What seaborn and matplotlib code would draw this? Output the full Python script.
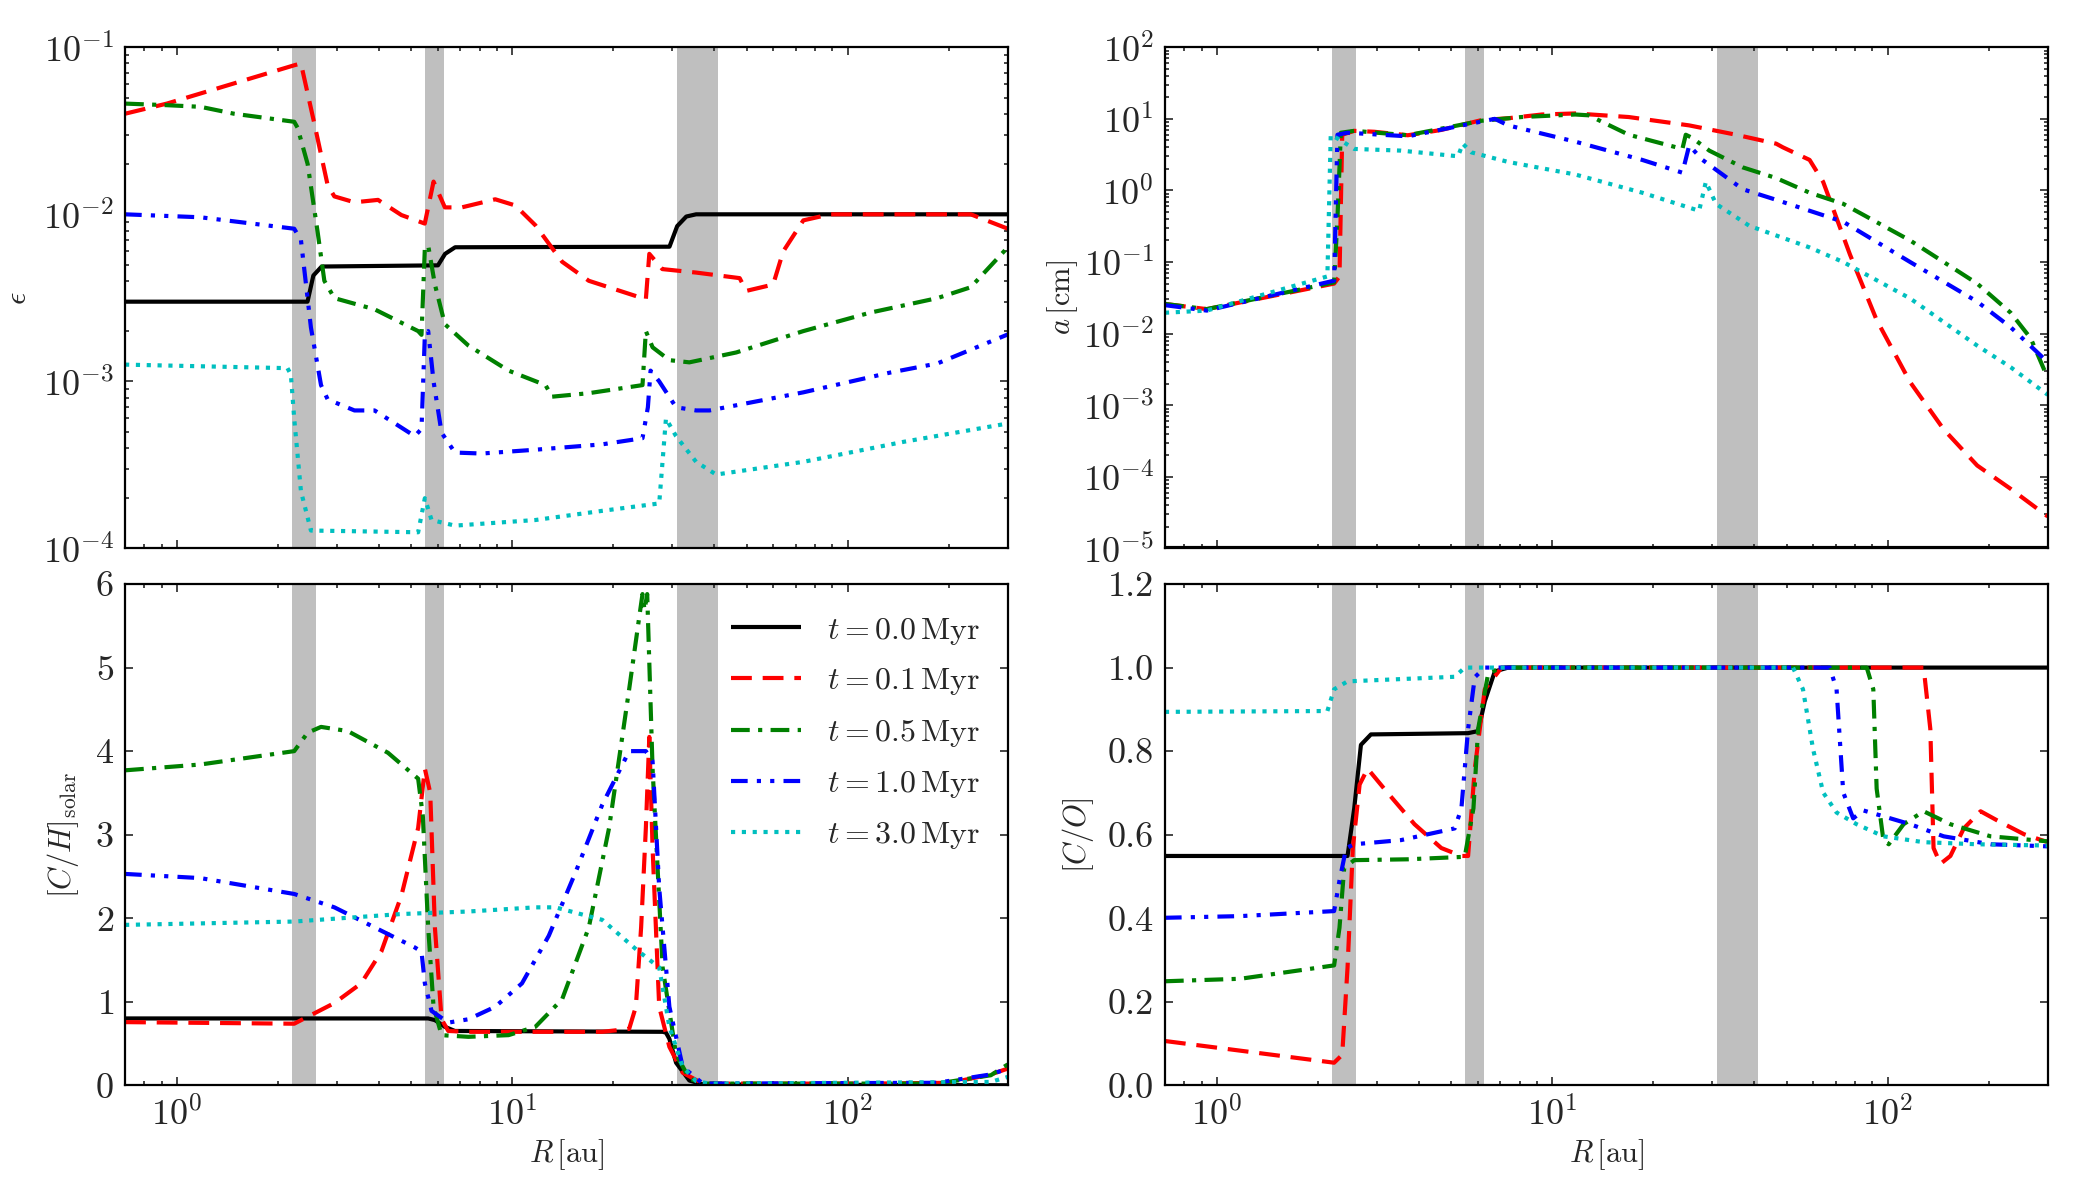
import numpy as np
import pandas as pd
import matplotlib
matplotlib.use("Agg")
import matplotlib.pyplot as plt
import seaborn as sns

# ---- data (R in au) ----
labels = [r"$t=0.0\,\mathrm{Myr}$", r"$t=0.1\,\mathrm{Myr}$", r"$t=0.5\,\mathrm{Myr}$",
          r"$t=1.0\,\mathrm{Myr}$", r"$t=3.0\,\mathrm{Myr}$"]
colors = ["k", "r", "g", "b", "c"]
styles = ["-", (0, (5, 2.6)), (0, (4.5, 2, 1, 2)), (0, (4, 2.2, 1, 2.2, 1, 2.2)), (0, (1, 1.6))]

snowlines = [(2.2, 2.6), (5.5, 6.25), (31.0, 41.0)]

# dust-to-gas ratio
r_eps_0 = [0.7, 2.45, 2.55, 2.7, 6.0, 6.3, 6.75, 29.4, 31, 33, 35.3, 300]
eps_0 = [3.0e-3, 3.0e-3, 4.3e-3, 4.87e-3, 4.95e-3, 5.8e-3, 6.35e-3, 6.4e-3, 8.5e-3, 9.7e-3, 1.0e-2, 1.0e-2]
r_eps_1 = [0.7, 0.933, 2.236, 2.342, 2.567, 2.814, 2.946, 3.382, 3.975, 4.667, 5.48, 5.82, 6.29, 7.06,
           8.89, 10.2, 11.71, 14.07, 16.9, 24.4, 25.0, 25.6, 28.0, 35.3, 47.6, 49.8, 59.9, 64.2, 73.7,
           88.5, 232.6, 300]
eps_1 = [0.040, 0.046, 0.078, 0.080, 0.035, 0.0149, 0.0128, 0.0118, 0.0122, 0.0099, 0.0088, 0.0157,
         0.011, 0.011, 0.0123, 0.0113, 0.0086, 0.0052, 0.0040, 0.00315, 0.0031, 0.0058, 0.0047, 0.00448,
         0.00415, 0.00348, 0.0038, 0.0060, 0.0092, 0.0100, 0.0100, 0.0082]
r_eps_5 = [0.7, 0.933, 1.175, 1.479, 2.236, 2.288, 2.452, 2.627, 2.75, 2.946, 3.883, 5.236, 5.358,
           5.483, 5.61, 5.874, 6.29, 7.39, 9.74, 12.55, 13.14, 16.9, 24.43, 25.0, 26.18, 29.38, 33.7,
           46.5, 73.7, 116.7, 184.9, 232.6, 300]
eps_5 = [0.046, 0.045, 0.044, 0.040, 0.0358, 0.033, 0.020, 0.0078, 0.0040, 0.00315, 0.0027, 0.0020,
         0.0019, 0.0063, 0.0065, 0.0038, 0.0022, 0.00164, 0.00116, 9.5e-4, 8.1e-4, 8.5e-4, 9.5e-4,
         0.0020, 0.0016, 0.00134, 0.0013, 0.00149, 0.0020, 0.00258, 0.00315, 0.00366, 0.00635]
r_eps_10 = [0.7, 1.175, 2.236, 2.342, 2.508, 2.688, 2.814, 3.382, 3.883, 5.117, 5.358, 5.483, 5.61,
            5.82, 6.15, 6.74, 8.1, 11.71, 18.54, 24.43, 25.35, 25.82, 27.4, 30.76, 35.3, 38.7, 73.7,
            134, 184.9, 300]
eps_10 = [0.010, 0.0096, 0.0082, 0.0070, 0.0021, 9.5e-4, 7.8e-4, 6.7e-4, 6.7e-4, 4.7e-4, 5.2e-4,
          1.9e-3, 2.0e-3, 1.0e-3, 4.93e-4, 3.75e-4, 3.7e-4, 3.9e-4, 4.2e-4, 4.57e-4, 7e-4, 1.16e-3,
          1.0e-3, 7.0e-4, 6.7e-4, 6.7e-4, 8.6e-4, 1.13e-3, 1.28e-3, 1.91e-3]
r_eps_30 = [0.7, 2.135, 2.185, 2.236, 2.342, 2.508, 3.23, 5.236, 5.483, 5.741, 6.74, 11.71, 18.54,
            27.4, 28.7, 30.76, 35.3, 40.5, 73.7, 146.9, 300]
eps_30 = [1.26e-3, 1.2e-3, 1.1e-3, 6e-4, 2.2e-4, 1.28e-4, 1.27e-4, 1.25e-4, 2.0e-4, 1.48e-4, 1.37e-4,
          1.48e-4, 1.68e-4, 1.86e-4, 6.0e-4, 4.7e-4, 3.3e-4, 2.77e-4, 3.3e-4, 4.35e-4, 5.6e-4]

# grain size [cm]
r_a_0 = [0.7, 300]
a_0 = [1e-5, 1e-5]
r_a_1 = [0.7, 0.933, 2.236, 2.32, 2.364, 2.567, 2.946, 3.708, 4.667, 6.15, 7.39, 9.31, 11.71, 16.9,
         25.6, 35.3, 46.5, 48.7, 58.5, 64.2, 70.4, 77.2, 92.7, 116.7, 146.9, 184.9, 232.6, 300]
a_1 = [0.026, 0.022, 0.050, 0.063, 6.0, 6.8, 6.6, 5.9, 7.0, 9.6, 10.2, 11.5, 11.9, 10.6, 8.1, 6.0,
       4.5, 4.0, 2.67, 1.32, 0.41, 0.127, 0.0155, 2.1e-3, 4.6e-4, 1.44e-4, 6.8e-5, 2.8e-5]
r_a_5 = [0.7, 0.933, 2.236, 2.288, 2.342, 2.567, 3.708, 6.15, 8.1, 11.71, 12.84, 16.9, 24.43, 25.0,
         26.18, 29.38, 36.97, 46.5, 58.5, 73.7, 116.7, 184.9, 232.6, 267, 300]
a_5 = [0.026, 0.022, 0.052, 0.41, 6.4, 6.8, 5.9, 9.4, 10.6, 11.5, 11.2, 6.0, 3.8, 6.0, 5.4, 3.6, 2.1,
       1.49, 0.93, 0.65, 0.2, 0.05, 0.0196, 8.6e-3, 2.4e-3]
r_a_10 = [0.7, 0.933, 2.236, 2.288, 2.452, 3.708, 6.74, 7.39, 11.71, 18.54, 24.43, 25.6, 28.05, 36.97,
          46.5, 73.7, 116.7, 184.9, 232.6, 300]
a_10 = [0.025, 0.021, 0.055, 6.0, 6.4, 5.7, 10.0, 8.1, 4.8, 2.67, 1.77, 4.25, 2.67, 1.04, 0.74, 0.365,
        0.10, 0.028, 0.0123, 4.0e-3]
r_a_30 = [0.7, 0.933, 2.135, 2.185, 2.342, 2.567, 3.541, 5.236, 5.408, 5.741, 7.39, 11.71, 18.54, 27.4,
          28.7, 30.76, 38.7, 58.5, 73.7, 116.7, 184.9, 232.6, 300]
a_30 = [0.0196, 0.021, 0.063, 6.0, 5.0, 3.8, 3.6, 3.0, 4.5, 3.4, 2.5, 1.67, 0.93, 0.52, 1.32, 0.65,
        0.32, 0.16, 0.10, 0.031, 6.8e-3, 3.4e-3, 1.4e-3]

# [C/H] solar
r_ch_0 = [0.7, 5.61, 5.874, 6.29, 6.74, 28.05, 28.7, 29.38, 30.76, 33.7, 36.97, 300]
ch_0 = [0.80, 0.80, 0.78, 0.70, 0.65, 0.64, 0.63, 0.556, 0.27, 0.057, 0.01, 0.0]
r_ch_1 = [0.7, 2.236, 2.452, 2.946, 3.541, 4.066, 4.667, 5.236, 5.483, 5.689, 5.874, 6.15, 6.44, 7.39,
          18.54, 22.29, 23.34, 24.2, 25.0, 25.6, 26.18, 27.4, 29.38, 32.2, 36.97, 116.7, 202.7, 267, 300]
ch_1 = [0.756, 0.737, 0.82, 0.984, 1.22, 1.6, 2.27, 3.08, 3.79, 3.5, 1.89, 0.79, 0.65, 0.64, 0.64,
        0.675, 0.94, 1.89, 3.08, 4.17, 2.84, 0.94, 0.46, 0.15, 0.02, 0.02, 0.03, 0.13, 0.2]
r_ch_5 = [0.7, 1.175, 2.236, 2.452, 2.688, 3.23, 4.257, 5.236, 5.408, 5.61, 5.82, 6.15, 7.39, 9.74,
          11.71, 14.07, 16.9, 19.42, 22.29, 23.88, 24.43, 24.77, 25.23, 26.18, 28.05, 30.76, 33.7,
          36.97, 184.9, 267, 300]
ch_5 = [3.77, 3.84, 4.0, 4.22, 4.29, 4.24, 3.98, 3.67, 3.22, 1.89, 0.94, 0.60, 0.58, 0.60, 0.70, 1.03,
        1.89, 3.08, 4.74, 5.6, 5.88, 5.69, 5.88, 3.79, 1.41, 0.37, 0.08, 0.02, 0.02, 0.12, 0.25]
r_ch_10 = [0.7, 1.175, 2.236, 2.946, 3.883, 5.117, 5.358, 5.483, 5.741, 6.44, 7.39, 8.89, 10.68,
           12.84, 15.43, 18.54, 22.29, 25.0, 26.18, 27.4, 29.38, 32.2, 36.97, 184.9, 267, 300]
ch_10 = [2.53, 2.48, 2.29, 2.13, 1.89, 1.65, 1.6, 1.22, 0.89, 0.75, 0.79, 0.94, 1.22, 1.79, 2.55,
         3.36, 4.0, 4.0, 3.88, 2.36, 0.94, 0.22, 0.02, 0.03, 0.13, 0.2]
r_ch_30 = [0.7, 2.236, 4.667, 7.39, 11.71, 13.44, 18.54, 23.34, 27.4, 29.38, 32.2, 35.3, 38.7, 267, 300]
ch_30 = [1.92, 1.96, 2.05, 2.08, 2.13, 2.13, 1.98, 1.63, 1.41, 0.70, 0.22, 0.05, 0.02, 0.04, 0.1]

# [C/O]
r_co_0 = [0.7, 2.452, 2.567, 2.688, 2.879, 5.61, 6.01, 6.29, 6.74, 7.39, 300]
co_0 = [0.549, 0.549, 0.663, 0.815, 0.84, 0.843, 0.848, 0.919, 0.991, 1.0, 1.0]
r_co_1 = [0.7, 2.236, 2.364, 2.452, 2.543, 2.664, 2.814, 3.23, 3.883, 4.667, 5.358, 5.61, 5.874, 6.29,
          7.06, 128, 134, 137, 143.6, 153.8, 168.6, 189.2, 212.2, 255, 300]
co_1 = [0.106, 0.054, 0.073, 0.282, 0.568, 0.72, 0.758, 0.70, 0.625, 0.568, 0.549, 0.549, 0.758, 0.948,
        1.0, 1.0, 0.853, 0.568, 0.53, 0.549, 0.615, 0.656, 0.634, 0.601, 0.582]
r_co_5 = [0.7, 1.175, 2.236, 2.32, 2.396, 2.567, 3.708, 5.483, 5.82, 6.01, 6.44, 7.06, 86.6, 90.6,
          92.7, 97.1, 100.7, 111.5, 128, 153.8, 202.7, 300]
co_5 = [0.249, 0.255, 0.287, 0.377, 0.52, 0.539, 0.541, 0.547, 0.663, 0.853, 0.986, 1.0, 1.0, 0.948,
        0.71, 0.587, 0.577, 0.625, 0.656, 0.625, 0.596, 0.584]
r_co_10 = [0.7, 1.175, 2.236, 2.32, 2.429, 2.567, 3.541, 5.117, 5.358, 5.61, 5.874, 6.29, 67.2, 70.4,
           73.7, 78.9, 84.6, 97.1, 116.7, 146.9, 202.7, 300]
co_10 = [0.401, 0.405, 0.417, 0.49, 0.568, 0.577, 0.587, 0.615, 0.663, 0.853, 0.977, 1.0, 1.0, 0.948,
         0.701, 0.639, 0.658, 0.644, 0.625, 0.596, 0.577, 0.572]
r_co_30 = [0.7, 2.135, 2.236, 2.452, 5.117, 5.483, 52.2, 55.9, 59.9, 64.2, 70.4, 80.8, 97.1, 128,
           184.9, 300]
co_30 = [0.894, 0.896, 0.948, 0.967, 0.978, 1.0, 1.0, 0.948, 0.805, 0.701, 0.653, 0.625, 0.596, 0.582,
         0.577, 0.574]

panels = [
    [(r_eps_0, eps_0), (r_eps_1, eps_1), (r_eps_5, eps_5), (r_eps_10, eps_10), (r_eps_30, eps_30)],
    [(r_a_0, a_0), (r_a_1, a_1), (r_a_5, a_5), (r_a_10, a_10), (r_a_30, a_30)],
    [(r_ch_0, ch_0), (r_ch_1, ch_1), (r_ch_5, ch_5), (r_ch_10, ch_10), (r_ch_30, ch_30)],
    [(r_co_0, co_0), (r_co_1, co_1), (r_co_5, co_5), (r_co_10, co_10), (r_co_30, co_30)],
]

# ---- style ----
sns.set_style("ticks")
plt.rcParams["font.family"] = ["serif"]
plt.rcParams["font.serif"] = ["cmr10", "DejaVu Serif"]
plt.rcParams["mathtext.fontset"] = "cm"
plt.rcParams["axes.formatter.use_mathtext"] = True
plt.rcParams["axes.unicode_minus"] = False
plt.rcParams["axes.linewidth"] = 1.6
plt.rcParams["axes.edgecolor"] = "k"
plt.rcParams["font.size"] = 22

fig, axes = plt.subplots(2, 2, figsize=(20.91, 11.93), dpi=100, sharex=True)
fig.subplots_adjust(left=0.0598, right=0.9793, top=0.9604, bottom=0.0903, wspace=0.178, hspace=0.071)
axes = axes.ravel()

for ax, series in zip(axes, panels):
    for lo, hi in snowlines:
        ax.axvspan(lo, hi, color="#bfbfbf", lw=0, zorder=0)
    for (rr, vv), c, ls, lab in zip(series, colors, styles, labels):
        df = pd.DataFrame({"R": rr, "v": vv})
        sns.lineplot(data=df, x="R", y="v", ax=ax, color=c, linestyle=ls, lw=3,
                     sort=False, estimator=None, label=lab, legend=False,
                     dash_capstyle="butt", solid_capstyle="butt")
    ax.set_xscale("log")
    ax.set_xlim(0.7, 300)
    ax.tick_params(which="both", direction="in", top=True, right=True, labelsize=26, width=1.2)
    ax.tick_params(which="major", length=6, pad=8)
    ax.tick_params(which="minor", length=3)
    ax.set_xlabel("")
    ax.set_ylabel("")

log_major = matplotlib.ticker.LogLocator(base=10, numticks=20)
log_minor = matplotlib.ticker.LogLocator(base=10, subs=np.arange(2, 10), numticks=20)

axes[0].set_yscale("log")
axes[0].set_ylim(1e-4, 1e-1)
axes[0].set_ylabel(r"$\epsilon$", fontsize=22, labelpad=8)

axes[1].set_yscale("log")
axes[1].set_ylim(1e-5, 1e2)
axes[1].yaxis.set_major_locator(log_major)
axes[1].yaxis.set_minor_locator(log_minor)
axes[1].set_ylabel(r"$a\,[\mathrm{cm}]$", fontsize=22, labelpad=2)

axes[2].set_ylim(0, 6)
axes[2].set_yticks(np.arange(0, 7, 1))
axes[2].set_ylabel(r"$[C/H]_\mathrm{solar}$", fontsize=22, labelpad=10)

axes[3].set_ylim(0, 1.2)
axes[3].set_yticks(np.arange(0, 1.21, 0.2))
axes[3].set_yticklabels(["0.0", "0.2", "0.4", "0.6", "0.8", "1.0", "1.2"])
axes[3].set_ylabel(r"$[C/O]$", fontsize=22, labelpad=8)

for ax in axes[2:]:
    ax.set_xlabel(r"$R\,[\mathrm{au}]$", fontsize=22, labelpad=4)
    ax.yaxis.set_minor_locator(matplotlib.ticker.NullLocator())

handles, labs = axes[2].get_legend_handles_labels()
axes[2].legend(handles, labs, loc="upper right", frameon=False, fontsize=23,
               handlelength=2.2, labelspacing=0.62, borderaxespad=0.35, bbox_to_anchor=(0.995, 0.985))

fig.savefig("out.png", dpi=100)
